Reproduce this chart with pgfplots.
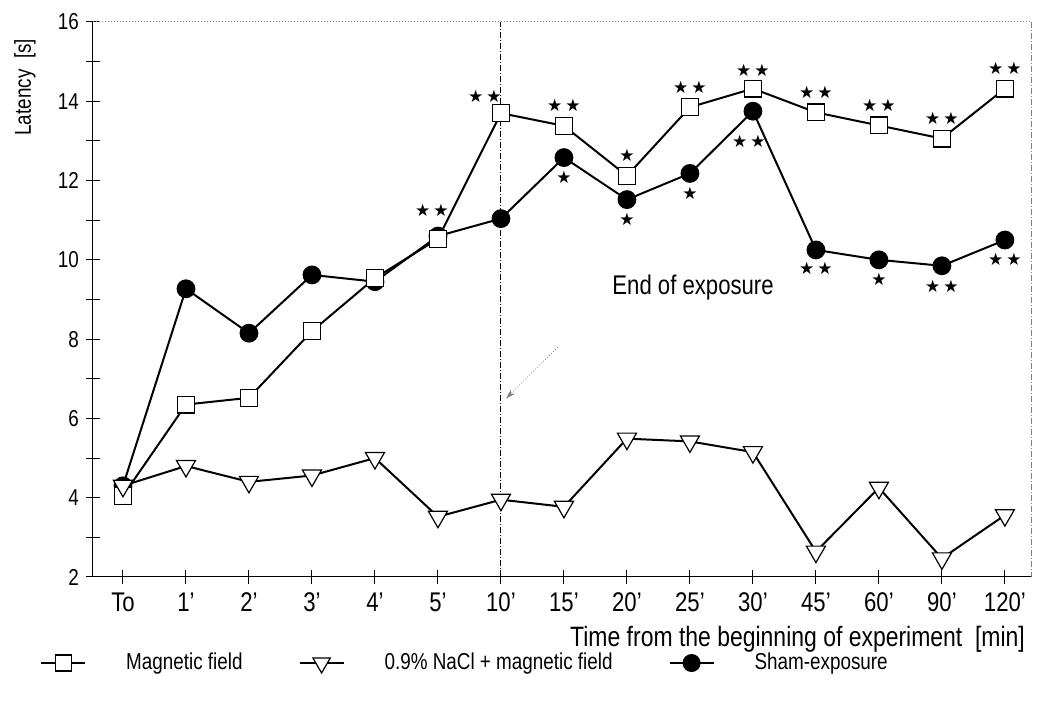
\documentclass[border=0pt]{standalone}
\usepackage{fontspec}
\setmainfont{Liberation Sans}[FakeStretch=0.82]
\newfontfamily\sym{DejaVu Sans}
\usepackage{pgfplots}
\pgfplotsset{compat=1.18}
\usetikzlibrary{arrows.meta}
\newcommand{\st}{{\sym\fontsize{8.5}{9}\selectfont ★}}
\newcommand{\sst}{\st\hspace{1.5pt}\st}
\begin{document}
\begin{tikzpicture}
\useasboundingbox (-46.5pt,-64.5pt) rectangle (474pt,288.5pt);
\begin{axis}[
  scale only axis, width=469.5pt, height=277.5pt,
  xmin=-0.476, xmax=14.43, ymin=2, ymax=16,
  axis x line*=bottom, axis y line*=left,
  axis line style={line width=0.5pt, -},
  xtick={0,...,14},
  xticklabels={To,1',2',3',4',5',10',15',20',25',30',45',60',90',120'},
  ytick={2,4,...,16}, minor ytick={3,5,...,15},
  tick align=center, major tick length=7pt, minor tick length=7pt,
  every tick/.style={black, line width=0.5pt},
  yticklabel style={font=\fontsize{11.5}{13}\selectfont},
  xticklabel style={font=\fontsize{13.5}{15}\selectfont, yshift=-1pt},
  /pgf/number format/assume math mode=true,
  clip=false,
  legend columns=3,
  legend style={draw=none, fill=none, at={(-0.063,-0.155)}, anchor=west,
    font=\fontsize{11.5}{14}\selectfont,
    /tikz/every odd column/.append style={column sep=18pt},
    /tikz/every even column/.append style={column sep=26pt}},
  legend cell align=left,
  legend image code/.code={\draw[mark repeat=2,mark phase=2] plot coordinates {(0pt,0pt) (11pt,0pt) (22pt,0pt)};},
]
% legend entries (custom order)
\addlegendimage{black, line width=1pt, mark=square*, mark size=4pt, mark options={fill=white, line width=0.6pt}}
\addlegendentry{Magnetic field}
\addlegendimage{black, line width=1pt, mark=triangle*, mark size=5pt, mark options={fill=white, rotate=180, line width=0.6pt}}
\addlegendentry{0.9\% NaCl + magnetic field}
\addlegendimage{black, line width=1pt, mark=*, mark size=4pt}
\addlegendentry{Sham-exposure}

% vertical line end of exposure
\draw[line width=0.5pt, densely dashdotted] (axis cs:6,2) -- (axis cs:6,16);
\draw[densely dotted, line width=0.5pt, gray] (rel axis cs:0,1) -- (rel axis cs:1,1);
\draw[line width=0.5pt, gray, densely dashdotted] (rel axis cs:1,1) -- (rel axis cs:1,0);

% Sham
\addplot[forget plot, black, line width=1pt, mark=*, mark size=4.2pt] coordinates {
(0,4.3) (1,9.27) (2,8.15) (3,9.62) (4,9.45) (5,10.6) (6,11.04) (7,12.58)
(8,11.52) (9,12.18) (10,13.75) (11,10.25) (12,10.0) (13,9.85) (14,10.5)};
% Magnetic field
\addplot[forget plot, black, line width=1pt, mark=square*, mark size=4.2pt, mark options={fill=white, line width=0.6pt}] coordinates {
(0,4.05) (1,6.35) (2,6.52) (3,8.2) (4,9.54) (5,10.53) (6,13.7) (7,13.38)
(8,12.12) (9,13.85) (10,14.32) (11,13.72) (12,13.39) (13,13.06) (14,14.32)};
% NaCl
\addplot[forget plot, black, line width=1pt, mark=triangle*, mark size=5.5pt, mark options={fill=white, rotate=180, line width=0.6pt}] coordinates {
(0,4.3) (1,4.8) (2,4.4) (3,4.56) (4,5.0) (5,3.52) (6,3.95) (7,3.77)
(8,5.49) (9,5.42) (10,5.15) (11,2.64) (12,4.25) (13,2.47) (14,3.56)};

% significance stars, magnetic field (above)
\node at ([xshift=-3pt,yshift=14pt]axis cs:5,10.53) {\sst};
\node at ([xshift=-8pt,yshift=8.5pt]axis cs:6,13.7) {\sst};
\node at ([yshift=10pt]axis cs:7,13.38) {\sst};
\node at ([yshift=10pt]axis cs:8,12.12) {\st};
\node at ([yshift=10pt]axis cs:9,13.85) {\sst};
\node at ([yshift=9pt]axis cs:10,14.32) {\sst};
\node at ([yshift=10pt]axis cs:11,13.72) {\sst};
\node at ([yshift=10pt]axis cs:12,13.39) {\sst};
\node at ([yshift=10pt]axis cs:13,13.06) {\sst};
\node at ([yshift=10pt]axis cs:14,14.32) {\sst};
% sham (below)
\node at ([yshift=-10pt]axis cs:7,12.58) {\st};
\node at ([yshift=-10pt]axis cs:8,11.52) {\st};
\node at ([yshift=-10pt]axis cs:9,12.18) {\st};
\node at ([xshift=-2pt,yshift=-15pt]axis cs:10,13.75) {\sst};
\node at ([yshift=-9pt]axis cs:11,10.25) {\sst};
\node at ([yshift=-10pt]axis cs:12,10.0) {\st};
\node at ([yshift=-10.5pt]axis cs:13,9.85) {\sst};
\node at ([yshift=-9.5pt]axis cs:14,10.5) {\sst};

% annotation
\node[font=\fontsize{13.5}{15}\selectfont] at (axis cs:9.05,9.3) {End of exposure};
\draw[densely dotted, line width=0.4pt, gray, -{Stealth[length=5pt,width=3pt]}] (axis cs:6.9,7.8) -- (axis cs:6.08,6.5);

% axis labels
\node[rotate=90, anchor=east, font=\fontsize{11.5}{13}\selectfont] at ([xshift=-34pt,yshift=-5pt]rel axis cs:0,1) {Latency\ \ [s]};
\node[anchor=east, font=\fontsize{14}{16}\selectfont] at ([xshift=0pt,yshift=-31pt]rel axis cs:1,0) {Time from the beginning of experiment\ \ [min]};
\end{axis}
\end{tikzpicture}
\end{document}
